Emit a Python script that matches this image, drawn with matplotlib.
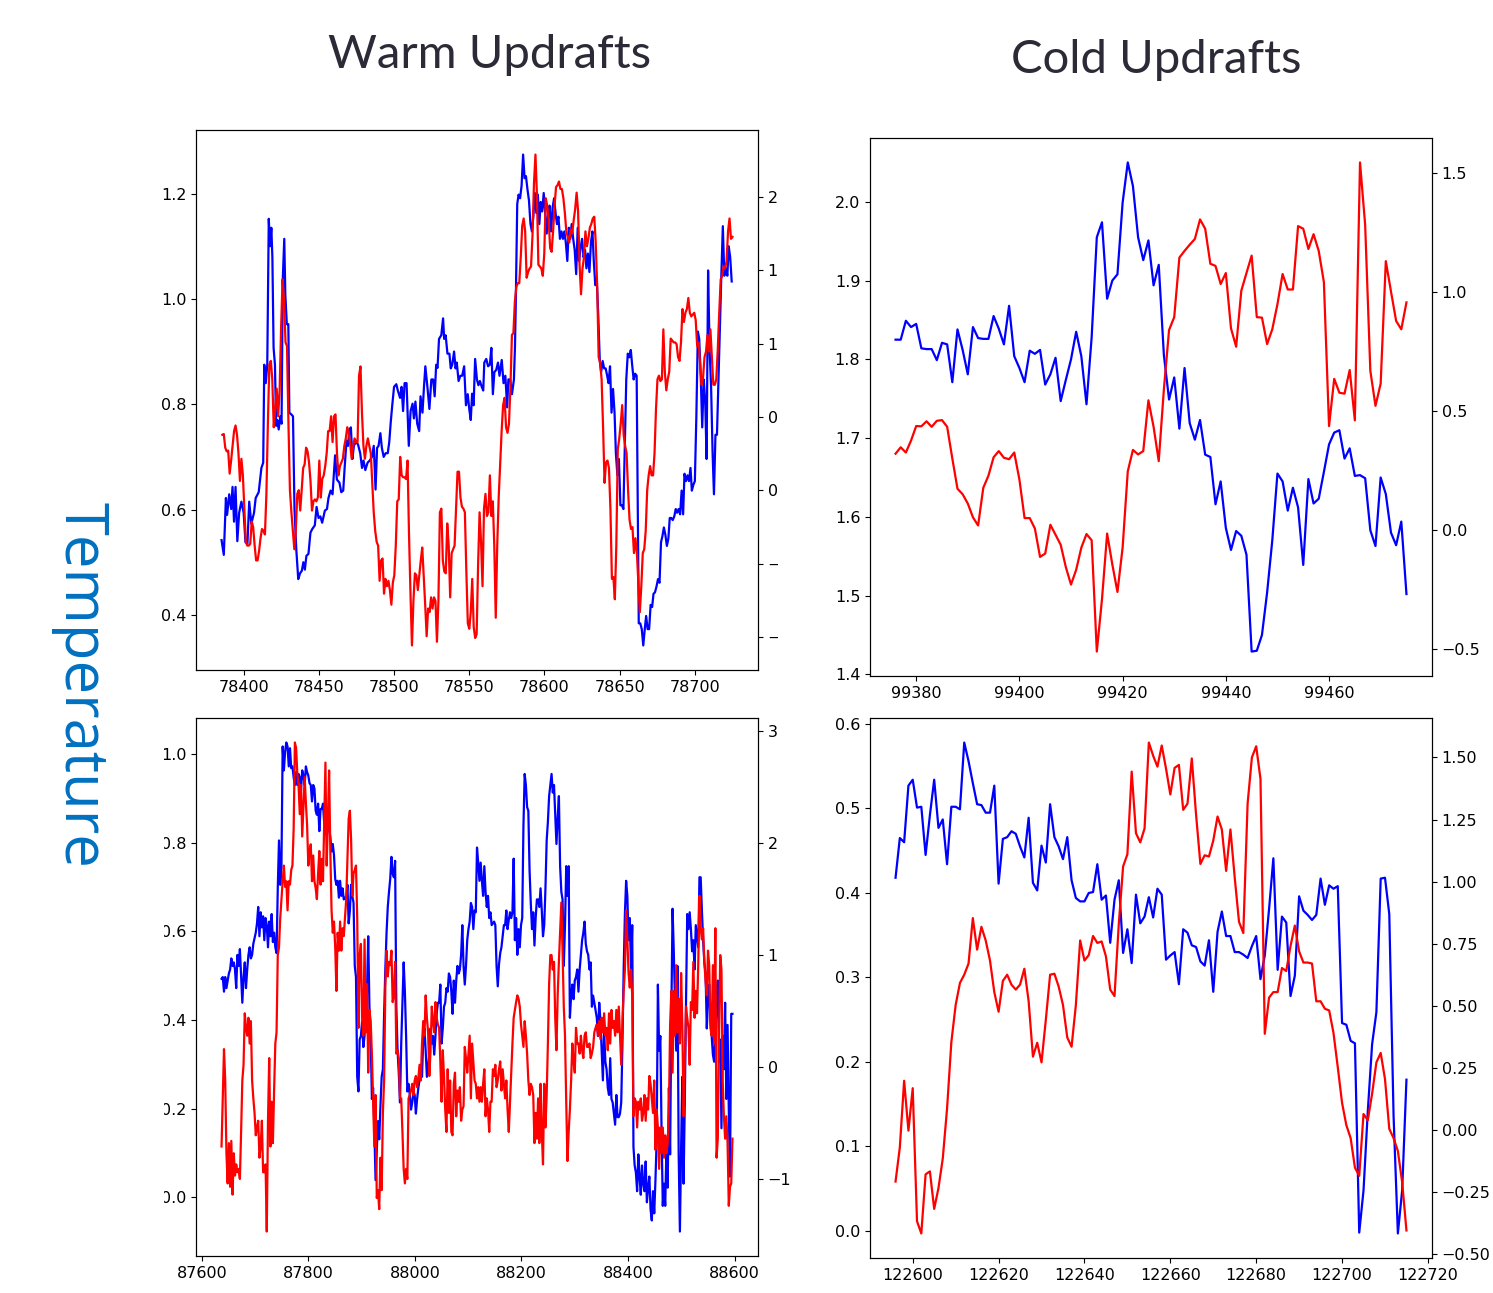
import matplotlib
matplotlib.use('Agg')
import matplotlib.pyplot as plt
import numpy as np
from matplotlib.transforms import Bbox

# DATA ------------------------------------------------------------------------

# Warm updrafts, first case (blue: left axis, red: right axis)
tl_blue_x = [
    78385.3, 78386.8, 78388.2, 78389.0, 78390.4, 78391.7, 78392.6, 78393.6, 78394.6, 78395.8,
    78397.0, 78398.5, 78400.0, 78401.2, 78402.5, 78403.7, 78405.1, 78406.9, 78408.0, 78410.0,
    78411.8, 78413.0, 78413.7, 78414.7, 78415.7, 78416.7, 78417.6, 78418.4, 78419.1, 78419.9,
    78420.8, 78421.6, 78422.3, 78423.3, 78424.3, 78425.2, 78426.0, 78427.0, 78427.7, 78428.7,
    78429.7, 78430.4, 78431.9, 78432.8, 78433.8, 78435.0, 78436.3, 78437.5, 78438.7, 78439.7,
    78440.7, 78441.7, 78443.1, 78444.4, 78445.6, 78447.3, 78448.5, 78449.8, 78451.0, 78452.2,
    78454.0, 78455.4, 78456.4, 78457.8, 78459.1, 78460.8, 78462.0, 78463.7, 78464.9, 78466.2,
    78467.2, 78468.4, 78469.4, 78470.3, 78471.3, 78472.3, 78473.3, 78474.5, 78476.0, 78477.5,
    78478.7, 78479.7, 78480.9, 78482.4, 78483.8, 78485.3, 78486.5, 78487.7, 78488.7, 78489.7,
    78490.9, 78491.9, 78493.1, 78494.4, 78495.8, 78496.8, 78497.8, 78498.8, 78500.0, 78501.5,
    78502.5, 78504.0, 78505.0, 78506.0, 78507.0, 78508.3, 78509.8, 78511.0, 78512.3, 78513.2,
    78514.2, 78515.4, 78516.7, 78517.6, 78518.9, 78519.9, 78520.8, 78522.3, 78523.5, 78524.8,
    78526.0, 78527.0, 78528.0, 78528.9, 78529.9, 78531.4, 78532.6, 78533.3, 78534.3, 78535.5,
    78536.8, 78537.7, 78538.7, 78539.9, 78540.9, 78541.7, 78542.9, 78544.1, 78545.3, 78546.6,
    78547.8, 78549.0, 78550.0, 78551.0, 78551.9, 78552.9, 78553.9, 78555.1, 78556.1, 78557.1,
    78558.3, 78559.3, 78560.0, 78561.3, 78562.5, 78563.7, 78564.7, 78565.7, 78566.7, 78567.9,
    78569.1, 78570.1, 78571.6, 78572.8, 78574.0, 78575.2, 78576.0, 78577.2, 78578.4, 78579.7,
    78580.4, 78580.9,
    78581.9, 78582.8, 78583.8, 78584.8, 78585.8, 78586.8, 78587.7, 78588.7, 78589.7, 78590.7,
    78591.7, 78592.6, 78593.6, 78594.6, 78595.6, 78596.6, 78597.5, 78598.5, 78599.5, 78600.5,
    78601.5, 78602.5, 78603.4, 78604.4, 78605.4, 78606.4, 78607.4, 78608.3, 78609.3, 78610.3,
    78611.3, 78612.3, 78613.2, 78614.2, 78615.2, 78616.2, 78617.2, 78618.1, 78619.1, 78620.1,
    78621.1, 78622.1, 78623.0, 78624.0, 78625.0, 78626.0, 78627.0, 78627.9, 78628.9, 78629.9,
    78630.9, 78631.9, 78632.8, 78633.8, 78634.8, 78635.8, 78636.8, 78637.7, 78638.7, 78639.7,
    78640.7, 78641.7, 78642.6, 78643.6, 78644.6, 78645.6, 78646.6, 78647.5, 78648.5, 78649.5,
    78650.5, 78651.5, 78652.5, 78653.4, 78654.4, 78655.4, 78656.4, 78657.4, 78658.3, 78659.3,
    78660.3, 78661.3,
    78662.7, 78663.7, 78664.7, 78665.7, 78666.7, 78667.6, 78668.6, 78669.6, 78670.6, 78671.6,
    78672.5, 78673.5, 78674.5, 78675.5, 78676.5, 78677.5, 78678.4, 78679.4, 78680.4, 78681.4,
    78682.4, 78683.3, 78684.3, 78685.3, 78686.3, 78687.3, 78688.2, 78689.2, 78690.2, 78691.2,
    78692.2, 78693.1, 78694.1, 78695.1, 78696.1, 78697.1, 78698.0, 78699.0, 78700.0, 78701.0,
    78702.0, 78702.9, 78703.9, 78704.9, 78705.9, 78706.9, 78707.8, 78708.8, 78709.8, 78710.8,
    78711.8, 78712.7, 78713.7, 78714.7, 78715.7, 78716.7, 78717.6, 78718.6, 78719.6, 78720.6,
    78721.6, 78722.5, 78723.5, 78724.5]
tl_blue = [
    0.542, 0.514, 0.622, 0.590, 0.629, 0.601, 0.643, 0.577, 0.643, 0.540,
    0.594, 0.615, 0.594, 0.538, 0.535, 0.615, 0.573, 0.594, 0.622, 0.633,
    0.679, 0.689, 0.875, 0.840, 0.875, 1.152, 1.100, 1.135, 1.079, 0.907,
    0.875, 0.759, 0.770, 0.752, 0.777, 0.763, 1.036, 1.114, 1.008, 0.952,
    0.952, 0.784, 0.780, 0.777, 0.601, 0.524, 0.468, 0.479, 0.484, 0.500,
    0.486, 0.512, 0.516, 0.556, 0.563, 0.570, 0.605, 0.584, 0.587, 0.575,
    0.598, 0.601, 0.622, 0.636, 0.629, 0.703, 0.657, 0.651, 0.633, 0.636,
    0.682, 0.731, 0.721, 0.752, 0.756, 0.696, 0.721, 0.728, 0.724, 0.707,
    0.679, 0.693, 0.675, 0.689, 0.693, 0.700, 0.721, 0.638, 0.717, 0.721,
    0.745, 0.717, 0.700, 0.707, 0.707, 0.728, 0.766, 0.798, 0.833, 0.838,
    0.826, 0.812, 0.833, 0.787, 0.840, 0.840, 0.721, 0.787, 0.801, 0.773,
    0.805, 0.763, 0.749, 0.815, 0.784, 0.833, 0.872, 0.829, 0.791, 0.847,
    0.847, 0.815, 0.875, 0.869, 0.924, 0.931, 0.963, 0.924, 0.931, 0.896,
    0.896, 0.868, 0.875, 0.900, 0.868, 0.879, 0.844, 0.854, 0.854, 0.872,
    0.798, 0.819, 0.791, 0.770, 0.820, 0.798, 0.886, 0.847, 0.836, 0.844,
    0.833, 0.826, 0.879, 0.886, 0.872, 0.875, 0.907, 0.819, 0.861, 0.865,
    0.879, 0.854, 0.884, 0.840, 0.854, 0.794, 0.847, 0.847, 0.819, 0.847,
    0.910, 0.987,
    1.180, 1.198, 1.191, 1.215, 1.274, 1.229, 1.233, 1.208, 1.187, 1.142,
    1.128, 1.156, 1.201, 1.163, 1.198, 1.142, 1.184, 1.166, 1.201, 1.163,
    1.124, 1.163, 1.177, 1.128, 1.173, 1.191, 1.163, 1.142, 1.156, 1.114,
    1.128, 1.114, 1.128, 1.107, 1.072, 1.135, 1.114, 1.142, 1.114, 1.093,
    1.047, 1.135, 1.072, 1.096, 1.114, 1.079, 1.093, 1.058, 1.086, 1.051,
    1.107, 1.128, 1.072, 1.026, 1.036, 0.966, 0.882, 0.861, 0.882, 0.868,
    0.868, 0.854, 0.840, 0.872, 0.784, 0.829, 0.784, 0.707, 0.665, 0.696,
    0.608, 0.608, 0.601, 0.721, 0.847, 0.896, 0.889, 0.903, 0.875, 0.847,
    0.858, 0.854,
    0.384, 0.384, 0.373, 0.342, 0.373, 0.398, 0.373, 0.373, 0.419, 0.415,
    0.440, 0.443, 0.454, 0.468, 0.461, 0.538, 0.549, 0.566, 0.552, 0.531,
    0.545, 0.584, 0.584, 0.580, 0.587, 0.601, 0.594, 0.601, 0.591, 0.636,
    0.591, 0.668, 0.654, 0.665, 0.654, 0.679, 0.636, 0.647, 0.654, 0.777,
    0.938, 0.924, 0.854, 0.756, 0.847, 0.805, 0.696, 1.054, 0.903, 0.833,
    0.707, 0.629, 0.742, 0.742, 0.847, 0.945, 1.044, 1.138, 1.044, 1.058,
    1.044, 1.100, 1.079, 1.033]

# red series read at an even step between these two times
tl_red_span = (78385.8, 78725.0)
tl_red = [
    0.379, 0.384, 0.291, 0.266, 0.271, 0.114, 0.203, 0.303, 0.404, 0.442,
    0.379, 0.253, 0.064, 0.215, 0.102, -0.125, -0.352, -0.377, -0.377, -0.365,
    -0.213, -0.251, -0.377, -0.478, -0.478, -0.415, -0.327, -0.264, -0.276, -0.301,
    -0.024, 0.455, 0.858, 0.883, 0.757, 0.430, 0.556, 0.694, 0.505, 0.682,
    1.110, 1.438, 1.287, 1.009, 0.984, 0.455, 0.001, -0.150, -0.276, -0.402,
    -0.276, -0.024, 0.001, -0.138, 0.001, 0.152, 0.177, 0.291, 0.266, 0.190,
    0.064, -0.138, -0.075, -0.062, -0.075, -0.049, 0.203, -0.049, 0.077, 0.102,
    0.165, 0.253, 0.404, 0.404, 0.505, 0.329, 0.505, 0.518, 0.253, 0.102,
    0.165, 0.190, 0.215, 0.303, 0.354, 0.430, 0.392, 0.316, 0.215, 0.303,
    0.354, 0.329, 0.329, 0.782, 0.845, 0.530, 0.303, 0.215, 0.303, 0.354,
    0.303, 0.253, 0.051, -0.150, -0.276, -0.352, -0.377, -0.617, -0.478, -0.465,
    -0.705, -0.604, -0.654, -0.617, -0.680, -0.780, -0.629, -0.579, -0.377, -0.075,
    -0.062, 0.228, 0.102, 0.089, 0.089, 0.077, 0.203, -0.301, -0.705, -1.058,
    -0.755, -0.566, -0.579, -0.680, -0.579, -0.478, -0.390, -0.579, -0.780, -0.995,
    -0.806, -0.831, -0.730, -0.806, -0.730, -0.755, -1.033, -0.755, -0.150, -0.125,
    -0.478, -0.554, -0.566, -0.226, -0.377, -0.730, -0.428, -0.402, -0.377, -0.125,
    0.127, 0.127, -0.049, -0.112, -0.125, -0.150, -0.554, -0.907, -0.944, -0.831,
    -0.604, -0.932, -1.007, -0.982, -0.503, -0.150, -0.352, -0.654, -0.125, -0.024,
    -0.175, -0.150, 0.102, -0.175, -0.075, -0.377, -0.869, -0.377, -0.049, 0.177,
    0.404, 0.581, 0.631, 0.430, 0.392, 0.455, 0.707, 1.060, 1.072, 1.287,
    1.387, 1.413, 1.413, 1.589, 1.803, 1.854, 1.766, 1.450, 1.488, 1.513,
    1.526, 1.740, 2.093, 2.290, 2.018, 1.539, 1.526, 1.513, 1.463, 1.614,
    1.992, 1.942, 1.841, 1.652, 1.627, 1.766, 1.942, 2.068, 2.081, 2.106,
    2.055, 2.055, 1.992, 1.892, 1.766, 1.728, 1.690, 1.778, 1.753, 1.841,
    1.917, 2.030, 1.904, 1.539, 1.337, 1.513, 1.589, 1.766, 1.665, 1.715,
    1.791, 1.816, 1.854, 1.866, 1.690, 1.387, 0.908, 0.871, 0.757, 0.430,
    0.051, 0.190, 0.203, 0.152, -0.125, -0.604, -0.591, -0.743, -0.377, 0.278,
    0.354, 0.455, 0.581, 0.379, 0.303, 0.253, 0.001, -0.201, -0.264, -0.251,
    -0.428, -0.327, -0.428, -0.629, -0.831, -0.654, -0.428, -0.402, -0.276, 0.001,
    0.102, 0.165, 0.102, 0.102, 0.253, 0.556, 0.757, 0.782, 0.745, 0.757,
    1.098, 0.808, 0.682, 0.757, 0.808, 1.035, 1.022, 1.009, 1.009, 0.997,
    0.908, 0.883, 1.009, 1.236, 1.148, 1.211, 1.236, 1.312, 1.211, 1.186,
    1.198, 1.211, 1.161, 0.984, 1.009, 0.858, 0.720, 0.770, 0.908, 0.946,
    1.060, 0.946, 1.098, 0.908, 0.720, 0.720, 0.757, 0.959, 1.211, 1.438,
    1.463, 1.526, 1.513, 1.564, 1.766, 1.854, 1.715, 1.728]

# Warm updrafts, second case, read at an even step between these two times
bl_span = (87637, 88596)
bl_blue = [
    0.493, 0.497, 0.464, 0.497, 0.472, 0.489, 0.505, 0.514, 0.539, 0.522,
    0.530, 0.514, 0.472, 0.547, 0.522, 0.560, 0.497, 0.439, 0.497, 0.530,
    0.472, 0.514, 0.547, 0.564, 0.539, 0.547, 0.572, 0.585, 0.597, 0.618,
    0.655, 0.589, 0.643, 0.609, 0.634, 0.580, 0.630, 0.614, 0.564, 0.622,
    0.589, 0.639, 0.576, 0.597, 0.564, 0.551, 0.697, 0.805, 0.705, 0.747,
    1.017, 0.963, 1.005, 1.026, 1.017, 0.972, 1.013, 0.968, 0.972, 0.947,
    0.930, 0.959, 0.930, 0.955, 0.947, 0.918, 0.963, 0.951, 0.930, 0.972,
    0.959, 0.951, 0.934, 0.930, 0.893, 0.930, 0.922, 0.872, 0.863, 0.888,
    0.826, 0.876, 0.876, 0.888, 0.843, 0.822, 0.818, 0.859, 0.830, 0.813,
    0.780, 0.797, 0.772, 0.718, 0.705, 0.714, 0.676, 0.714, 0.680, 0.697,
    0.672, 0.676, 0.672, 0.705, 0.618, 0.647, 0.705, 0.680, 0.664, 0.522,
    0.497, 0.272, 0.239, 0.356, 0.364, 0.397, 0.339, 0.364, 0.422, 0.464,
    0.589, 0.430, 0.364, 0.222, 0.247, 0.156, 0.039, 0.106, 0.172, 0.131,
    0.206, 0.272, 0.289, 0.414, 0.514, 0.597, 0.655, 0.689, 0.718, 0.768,
    0.730, 0.722, 0.759, 0.430, 0.331, 0.281, 0.214, 0.347, 0.439, 0.530,
    0.464, 0.364, 0.239, 0.256, 0.231, 0.198, 0.214, 0.239, 0.231, 0.189,
    0.222, 0.247, 0.264, 0.297, 0.272, 0.356, 0.381, 0.331, 0.272, 0.297,
    0.322, 0.381, 0.347, 0.364, 0.322, 0.364, 0.414, 0.439, 0.439, 0.480,
    0.347, 0.381, 0.430, 0.439, 0.472, 0.464, 0.505, 0.497, 0.464, 0.414,
    0.489, 0.439, 0.489, 0.522, 0.505, 0.514, 0.547, 0.614, 0.522, 0.480,
    0.522, 0.580, 0.605, 0.622, 0.664, 0.655, 0.605, 0.647, 0.643, 0.789,
    0.755, 0.714, 0.755, 0.714, 0.680, 0.747, 0.689, 0.655, 0.680, 0.630,
    0.643, 0.614, 0.618, 0.622, 0.614, 0.522, 0.476, 0.526, 0.551, 0.564,
    0.589, 0.614, 0.614, 0.647, 0.605, 0.626, 0.643, 0.630, 0.643, 0.764,
    0.580, 0.630, 0.547, 0.605, 0.564, 0.614, 0.630, 0.838, 0.955, 0.930,
    0.880, 0.872, 0.738, 0.664, 0.605, 0.643, 0.568, 0.630, 0.672, 0.672,
    0.655, 0.697, 0.647, 0.589, 0.614, 0.697, 0.805, 0.847, 0.905, 0.930,
    0.955, 0.913, 0.930, 0.863, 0.797, 0.855, 0.905, 0.747, 0.689, 0.672,
    0.522, 0.614, 0.747, 0.680, 0.747, 0.405, 0.455, 0.480, 0.447, 0.489,
    0.497, 0.514, 0.464, 0.514, 0.547, 0.580, 0.597, 0.622, 0.572, 0.555,
    0.547, 0.514, 0.530, 0.430, 0.455, 0.439, 0.422, 0.405, 0.364, 0.439,
    0.397, 0.331, 0.264, 0.381, 0.306, 0.289, 0.247, 0.231, 0.314, 0.222,
    0.214, 0.189, 0.164, 0.231, 0.181, 0.181, 0.189, 0.214, 0.347, 0.514,
    0.639, 0.714, 0.680, 0.580, 0.630, 0.514, 0.614, 0.114, 0.072, 0.056,
    0.014, 0.097, 0.047, 0.006, 0.072, 0.031, 0.014, 0.081, -0.011, 0.022,
    0.047, -0.027, -0.052, 0.014, -0.036, 0.039, 0.131, 0.480, 0.331, 0.364,
    0.147, -0.019, 0.031, -0.019, 0.114, 0.022, 0.247, 0.097, 0.414, 0.651,
    0.555, 0.447, 0.331, 0.522, 0.097, -0.077, 0.114, 0.272, 0.031, 0.214,
    0.439, 0.639, 0.605, 0.643, 0.605, 0.555, 0.580, 0.514, 0.614, 0.589,
    0.564, 0.722, 0.722, 0.647, 0.580, 0.530, 0.505, 0.381, 0.447, 0.480,
    0.397, 0.364, 0.322, 0.306, 0.381, 0.430, 0.489, 0.306, 0.356, 0.156,
    0.364, 0.289, 0.439, 0.222, 0.389, 0.198, 0.047, 0.414, 0.414]
bl_red = [
    -0.71, -0.28, 0.16, -0.12, -0.77, -1.04, -0.68, -1.07, -0.66, -1.14,
    -0.77, -0.97, -0.87, -0.94, -0.91, -1.00, -0.58, -0.12, 0.02, 0.48,
    0.35, 0.28, 0.44, 0.21, 0.41, -0.12, -0.28, -0.41, -0.61, -0.54,
    -0.48, -0.81, -0.71, -0.48, -0.94, -0.94, -0.87, -1.47, -0.48, 0.08,
    -0.71, -0.31, -0.68, -0.21, 0.21, 0.31, 1.00, 1.07, 1.33, 1.50,
    1.66, 1.80, 1.61, 1.66, 1.40, 1.66, 1.63, 1.76, 1.80, 2.13,
    2.90, 2.85, 2.62, 2.52, 2.26, 2.52, 2.06, 2.32, 2.59, 2.36,
    2.16, 1.80, 1.93, 1.99, 1.66, 1.89, 1.66, 1.60, 1.50, 1.73,
    1.93, 1.63, 1.86, 1.66, 2.19, 2.72, 1.80, 2.19, 2.65, 1.93,
    1.40, 1.20, 1.30, 1.07, 0.68, 1.20, 1.04, 1.30, 1.04, 1.24,
    1.17, 1.33, 1.50, 1.86, 2.22, 2.29, 2.03, 1.53, 1.73, 1.76,
    1.80, 1.33, 0.35, 1.00, 1.10, 0.44, 0.28, 1.14, 0.31, 0.74,
    -0.05, 0.51, 0.41, 0.12, -0.31, -0.71, -0.25, -1.17, -1.10, -1.27,
    -0.81, -1.10, -0.41, -0.12, 0.71, 1.04, 0.81, 0.94, 0.91, 1.04,
    0.58, 0.64, 0.94, 0.12, 0.15, 0.08, -0.28, -0.28, -0.58, -0.91,
    -1.04, -0.91, -1.00, -0.28, -0.25, -0.21, -0.15, -0.25, -0.12, -0.08,
    -0.18, -0.10, 0.02, -0.12, 0.21, 0.41, 0.28, 0.64, 0.44, 0.31,
    -0.08, 0.15, 0.54, 0.41, 0.31, 0.58, 0.44, 0.38, 0.35, 0.05,
    -0.31, 0.15, -0.08, -0.38, -0.58, -0.02, -0.41, -0.12, -0.58, -0.61,
    -0.15, -0.05, -0.44, -0.21, -0.31, -0.18, -0.48, -0.38, -0.35, 0.18,
    0.08, -0.05, 0.12, 0.28, -0.28, 0.21, 0.05, -0.12, -0.15, -0.28,
    -0.18, -0.31, -0.18, -0.31, -0.15, -0.02, -0.44, -0.28, -0.38, -0.58,
    -0.31, -0.31, -0.02, -0.08, 0.02, -0.18, -0.12, -0.02, 0.05, -0.21,
    -0.02, -0.15, -0.28, -0.12, -0.38, -0.58, -0.31, -0.05, 0.21, 0.44,
    0.51, 0.58, 0.64, 0.61, 0.54, 0.38, 0.28, 0.18, 0.41, 0.28,
    0.12, -0.12, -0.25, -0.15, -0.18, -0.25, -0.68, -0.41, -0.64, -0.28,
    -0.68, -0.15, -0.58, -0.87, -0.15, -0.54, -0.25, 0.21, 0.74, 1.00,
    1.00, 0.87, 0.94, 0.44, 0.15, 0.64, 0.94, 1.20, 1.47, 1.04,
    0.54, 0.28, -0.31, -0.84, -0.58, -0.38, -0.12, 0.21, 0.05, -0.05,
    0.35, 0.21, 0.21, 0.12, 0.28, 0.15, 0.08, 0.28, 0.31, 0.18,
    0.18, 0.21, 0.08, 0.12, 0.18, 0.31, 0.35, 0.38, 0.28, 0.41,
    0.25, 0.44, 0.31, 0.48, 0.28, 0.35, 0.15, 0.48, 0.21, 0.51,
    0.35, 0.41, 0.28, 0.51, 0.31, 0.54, 0.28, 0.02, 0.41, 0.68,
    0.87, 1.40, 1.14, 0.84, 0.71, 0.87, 0.64, -0.44, -0.28, -0.31,
    -0.54, -0.31, -0.38, -0.28, -0.48, -0.41, -0.25, -0.48, -0.28, -0.38,
    -0.08, -0.15, -0.28, -0.41, -0.12, -0.74, -0.38, -0.54, -0.91, -0.54,
    -0.77, -0.54, -0.81, -0.61, -0.77, -0.68, -0.38, 0.38, 0.68, -0.05,
    0.68, 0.28, 0.91, 0.31, 0.61, 0.21, 0.84, 0.38, -0.44, 0.02,
    0.54, 0.44, 0.35, 0.02, 0.58, 0.51, 0.94, 0.44, 0.68, 0.48,
    0.91, 1.53, 1.24, 1.14, 1.24, 0.94, 0.77, 0.64, 1.04, 0.91,
    0.35, 0.28, 0.91, 0.21, 1.24, -0.81, -0.64, 0.25, 1.00, 0.87,
    -0.12, -0.44, -0.64, -0.44, -0.68, -1.24, -1.07, -1.04, -0.64]

# Cold updrafts, first case (one value per time step)
tr_start = 99376
tr_blue = [
    1.825, 1.825, 1.849, 1.841, 1.845, 1.814, 1.813, 1.813, 1.799, 1.821,
    1.819, 1.771, 1.838, 1.812, 1.781, 1.841, 1.827, 1.826, 1.826, 1.855,
    1.839, 1.819, 1.868, 1.804, 1.789, 1.771, 1.811, 1.807, 1.812, 1.768,
    1.781, 1.802, 1.747, 1.774, 1.800, 1.835, 1.804, 1.743, 1.828, 1.955,
    1.974, 1.877, 1.900, 1.908, 1.999, 2.050, 2.020, 1.955, 1.926, 1.951,
    1.894, 1.920, 1.805, 1.749, 1.777, 1.712, 1.789, 1.719, 1.698, 1.723,
    1.679, 1.676, 1.616, 1.645, 1.586, 1.558, 1.582, 1.576, 1.552, 1.429,
    1.430, 1.450, 1.504, 1.570, 1.655, 1.645, 1.608, 1.637, 1.612, 1.539,
    1.648, 1.617, 1.623, 1.657, 1.692, 1.707, 1.710, 1.674, 1.687, 1.652,
    1.653, 1.649, 1.583, 1.563, 1.650, 1.629, 1.580, 1.564, 1.594, 1.502]
tr_red = [
    0.321, 0.348, 0.326, 0.376, 0.437, 0.436, 0.457, 0.434, 0.459, 0.462,
    0.434, 0.301, 0.174, 0.151, 0.112, 0.054, 0.020, 0.178, 0.229, 0.306,
    0.332, 0.304, 0.298, 0.326, 0.213, 0.051, 0.051, 0.007, -0.112, -0.098,
    0.023, -0.019, -0.061, -0.155, -0.228, -0.166, -0.073, -0.016, -0.042, -0.509,
    -0.290, -0.014, -0.143, -0.259, -0.073, 0.247, 0.337, 0.318, 0.332, 0.545,
    0.434, 0.290, 0.592, 0.840, 0.894, 1.144, 1.172, 1.198, 1.222, 1.304,
    1.265, 1.118, 1.109, 1.033, 1.079, 0.847, 0.770, 1.005, 1.079, 1.152,
    0.894, 0.892, 0.781, 0.843, 0.948, 1.075, 1.010, 1.010, 1.276, 1.265,
    1.180, 1.242, 1.172, 1.041, 0.437, 0.635, 0.577, 0.573, 0.672, 0.461,
    1.543, 1.280, 0.669, 0.522, 0.615, 1.129, 1.002, 0.878, 0.843, 0.956]

# Cold updrafts, second case (one value per time step)
br_start = 122596
br_blue = [
    0.418, 0.465, 0.460, 0.527, 0.534, 0.501, 0.502, 0.445, 0.492, 0.534,
    0.477, 0.487, 0.434, 0.502, 0.502, 0.499, 0.578, 0.556, 0.530, 0.505,
    0.504, 0.495, 0.495, 0.527, 0.411, 0.464, 0.466, 0.473, 0.470, 0.455,
    0.442, 0.489, 0.412, 0.403, 0.456, 0.436, 0.505, 0.466, 0.455, 0.440,
    0.466, 0.415, 0.394, 0.390, 0.390, 0.400, 0.401, 0.434, 0.392, 0.397,
    0.341, 0.392, 0.415, 0.329, 0.357, 0.317, 0.398, 0.364, 0.372, 0.395,
    0.371, 0.405, 0.398, 0.321, 0.326, 0.330, 0.292, 0.357, 0.353, 0.338,
    0.336, 0.319, 0.314, 0.344, 0.283, 0.354, 0.378, 0.349, 0.349, 0.330,
    0.330, 0.327, 0.323, 0.337, 0.349, 0.298, 0.326, 0.381, 0.441, 0.309,
    0.372, 0.365, 0.278, 0.302, 0.396, 0.379, 0.374, 0.368, 0.374, 0.417,
    0.386, 0.409, 0.405, 0.408, 0.246, 0.244, 0.225, 0.222, -0.002, 0.048,
    0.142, 0.221, 0.259, 0.417, 0.418, 0.375, 0.136, -0.003, 0.048, 0.179]
br_red = [
    -0.208, -0.070, 0.198, -0.003, 0.168, -0.368, -0.417, -0.179, -0.167, -0.318,
    -0.234, -0.115, 0.086, 0.354, 0.503, 0.592, 0.625, 0.670, 0.853, 0.726,
    0.818, 0.763, 0.682, 0.555, 0.476, 0.600, 0.625, 0.585, 0.565, 0.585,
    0.649, 0.518, 0.295, 0.351, 0.272, 0.443, 0.625, 0.629, 0.577, 0.503,
    0.372, 0.335, 0.503, 0.763, 0.682, 0.704, 0.781, 0.753, 0.759, 0.699,
    0.565, 0.539, 0.830, 1.061, 1.110, 1.443, 1.195, 1.158, 1.214, 1.560,
    1.507, 1.463, 1.548, 1.455, 1.351, 1.458, 1.470, 1.289, 1.314, 1.496,
    1.269, 1.071, 1.106, 1.101, 1.165, 1.262, 1.210, 1.043, 1.210, 1.016,
    0.838, 0.793, 1.314, 1.500, 1.545, 1.414, 0.387, 0.533, 0.555, 0.555,
    0.652, 0.640, 0.741, 0.823, 0.719, 0.674, 0.674, 0.670, 0.518, 0.518,
    0.488, 0.481, 0.391, 0.253, 0.109, 0.019, -0.033, -0.152, -0.185, 0.064,
    0.039, 0.146, 0.272, 0.310, 0.205, 0.004, -0.033, -0.085, -0.211, -0.405]

titles = ['Warm Updrafts', 'Cold Updrafts']
side_label = 'Temperature'

# PLOTTING --------------------------------------------------------------------

W, H = 1493, 1293
fig = plt.figure(figsize=(W / 100, H / 100), dpi=100)

def box(x0, y0, x1, y1):
    # pixel box (from top-left) -> figure fraction rect
    return [x0 / W, 1 - y1 / H, (x1 - x0) / W, (y1 - y0) / H]

ax_tl = fig.add_axes(box(196, 130, 758, 670))
ax_tr = fig.add_axes(box(870, 138, 1432, 676))
ax_bl = fig.add_axes(box(196, 718, 758, 1256))
ax_br = fig.add_axes(box(870, 718, 1432, 1258))

panels = [
    (ax_tl, tl_blue_x, tl_blue, np.linspace(*tl_red_span, len(tl_red)), tl_red),
    (ax_tr, np.arange(tr_start, tr_start + len(tr_blue)), tr_blue,
     np.arange(tr_start, tr_start + len(tr_red)), tr_red),
    (ax_bl, np.linspace(*bl_span, len(bl_blue)), bl_blue,
     np.linspace(*bl_span, len(bl_red)), bl_red),
    (ax_br, np.arange(br_start, br_start + len(br_blue)), br_blue,
     np.arange(br_start, br_start + len(br_red)), br_red),
]

twins = []
for ax, xb, yb, xr, yr in panels:
    ax.plot(xb, yb, color='b', lw=1.6)
    ax2 = ax.twinx()
    ax2.plot(xr, yr, color='r', lw=1.6)
    for a in (ax, ax2):
        a.tick_params(labelsize=11.5)
    twins.append(ax2)

title_font = ['Lato', 'DejaVu Sans']
fig.text(490 / W, 1 - 55 / H, titles[0], ha='center', va='center',
         fontsize=34, color='#2b2a36', family=title_font)
fig.text(1156 / W, 1 - 60 / H, titles[1], ha='center', va='center',
         fontsize=34, color='#2b2a36', family=title_font)
fig.text(80 / W, 1 - 685 / H, side_label, ha='center', va='center',
         rotation=-90, fontsize=43, color='#0070c0', family=['Open Sans', 'DejaVu Sans'])

# the panels were packed tightly, so some tick labels are cut off
fig.canvas.draw()
for lbl in twins[0].get_yticklabels():
    lbl.set_clip_box(Bbox.from_extents(0, 0, 778, H))
    lbl.set_clip_on(True)
for lbl in ax_bl.get_yticklabels():
    lbl.set_clip_box(Bbox.from_extents(164, 0, W, H))
    lbl.set_clip_on(True)

fig.savefig('out.png', dpi=100)
